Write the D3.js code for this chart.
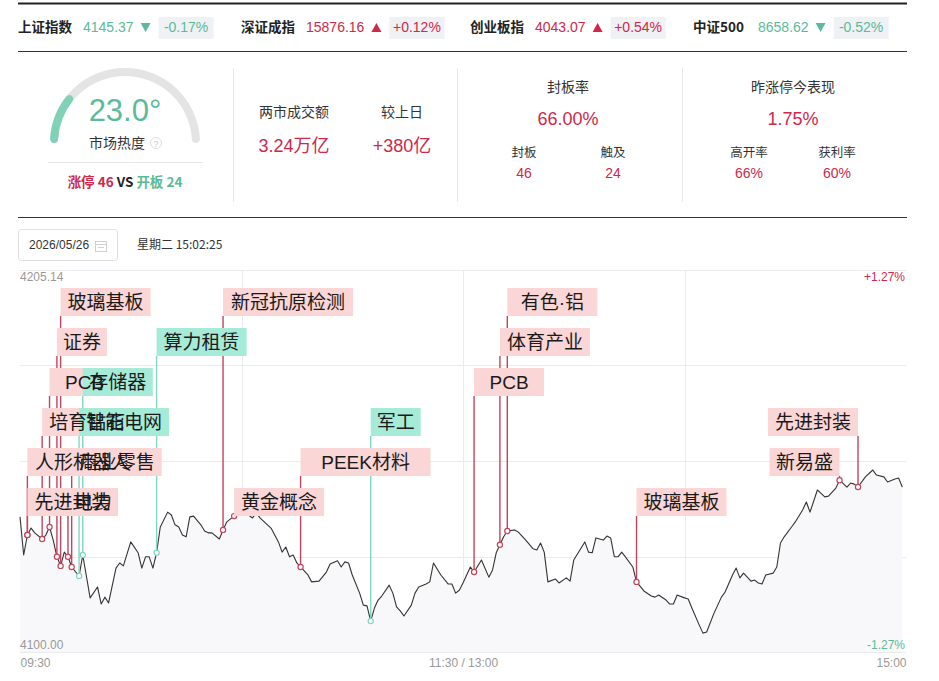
<!DOCTYPE html>
<html><head><meta charset="utf-8">
<script src="https://cdn.jsdelivr.net/npm/d3@7"></script>
<style>
html,body{margin:0;padding:0;background:#fff;}
svg{display:block;font-family:"Liberation Sans","Noto Sans CJK SC",sans-serif;}
</style></head><body>
<svg id="c" width="939" height="681"></svg>
<script>
// ---------- DATA ----------
const indexNames = ["上证指数","深证成指","创业板指","中证500"];
const indexValues = ["4145.37","15876.16","4043.07","8658.62"];
const indexChanges = ["-0.17%","+0.12%","+0.54%","-0.52%"];

const heatValue = 23.0;
const heatLabel = "市场热度";
const limitUp = 46, brokenBoard = 24;

const turnoverLabels = ["两市成交额","较上日"];
const turnoverValues = ["3.24万亿","+380亿"];

const sealTitle = "封板率", sealValue = "66.00%";
const sealSubLabels = ["封板","触及"], sealSubValues = ["46","24"];

const ydayTitle = "昨涨停今表现", ydayValue = "1.75%";
const ydaySubLabels = ["高开率","获利率"], ydaySubValues = ["66%","60%"];

const dateText = "2026/05/26";
const timeText = "星期二 15:02:25";

const priceMax = 4205.14, priceMin = 4100.00;
const pctLabels = ["+1.27%","-1.27%"];
const timeTicks = [0,120,240];
const timeLabels = ["09:30","11:30 / 13:00","15:00"];

// minutes since 09:30 (trading minutes) and index level
const minutes = [
0,1,2,3,4,6,7,8,9,10,
11,12,13,14,16,17,19,21,22,23,
24,26,27,28,30,32,33,34,35,36,
37,38,40,41,42,43,44,45,46,47,
49,50,51,52,54,55,56,58,59,61,
63,64,65,68,70,71,72,73,74,75,
76,78,79,81,83,84,86,87,88,89,
90,92,93,94,95,96,97,98,100,101,
102,103,104,106,107,108,110,111,112,114,
116,117,118,119,120,121,122,123,125,127,
128,129,130,131,132,134,135,137,139,140,
141,142,143,145,146,148,149,150,153,154,
155,156,158,159,160,161,162,163,164,166,
167,169,171,172,173,175,176,177,178,180,
181,182,184,185,186,188,190,191,193,194,
195,196,198,199,200,201,202,204,205,206,
207,209,210,212,213,214,216,218,219,221,
222,224,225,226,227,229,231,232,234,235,
237,238,239];
const prices = [
4137.2,4126.7,4132.2,4134.1,4132.8,4131.1,4132.2,4134.4,4130.8,4126.2,
4123.7,4127.5,4126.2,4123.4,4120.9,4126.7,4114.9,4117.9,4113.2,4115.1,
4113.5,4123.1,4124.5,4123.7,4130.3,4127.3,4123.1,4126.2,4126.2,4123.1,
4127.3,4134.4,4138.5,4137.7,4135.0,4134.4,4132.2,4131.7,4137.2,4137.4,
4135.0,4133.3,4132.8,4132.8,4131.1,4133.6,4135.8,4137.4,4138.0,4138.3,
4136.9,4138.3,4136.9,4134.1,4130.3,4127.5,4128.9,4126.2,4126.7,4124.5,
4123.4,4121.2,4119.3,4119.5,4122.0,4124.2,4125.1,4123.4,4124.8,4124.5,
4121.2,4116.2,4112.9,4112.7,4108.5,4112.1,4114.3,4115.4,4118.4,4116.2,
4112.4,4111.3,4109.9,4112.9,4116.2,4117.9,4118.7,4119.3,4124.5,4121.2,
4118.7,4118.7,4116.2,4117.0,4119.0,4121.2,4123.4,4122.0,4125.3,4120.6,
4122.6,4127.3,4129.5,4131.7,4133.3,4133.6,4133.0,4130.8,4128.4,4128.1,
4130.0,4127.5,4119.3,4120.1,4119.0,4120.4,4119.5,4125.3,4130.3,4127.5,
4127.3,4131.4,4130.8,4131.9,4131.4,4126.2,4126.2,4127.5,4126.2,4123.4,
4119.3,4116.8,4115.4,4115.1,4115.7,4114.3,4113.2,4113.2,4115.7,4114.9,
4114.6,4112.1,4107.4,4105.2,4105.5,4110.7,4115.1,4116.5,4121.2,4123.1,
4120.4,4121.7,4119.5,4119.8,4119.0,4118.7,4121.2,4121.7,4123.4,4130.0,
4131.7,4134.4,4135.8,4139.1,4141.3,4138.5,4144.6,4142.7,4142.9,4145.1,
4147.3,4145.4,4146.5,4146.2,4145.4,4148.2,4150.1,4148.7,4148.2,4146.8,
4147.6,4147.9,4145.37];

// sector events (limit-up clusters)
const eventMinutes = [2,2,6,8,10,11,13,14,16,17,37,55,58,76,95,123,130,132,167,222,227];
const eventNames = ["先进封装","人形机器人","培育钻石","PCB","证券","玻璃基板","电力","商业零售","智能电网","存储器","算力租赁","新冠抗原检测","黄金概念","PEEK材料","军工","PCB","体育产业","有色·铝","玻璃基板","新易盛","先进封装"];
const eventTypes = ["up","up","up","up","up","up","up","up","down","down","down","up","up","up","down","up","up","up","up","up","up"];

// ---------- STYLE ----------
const RED = "#d0284a", GREEN = "#5bbb98";
const svg = d3.select("#c");
const CJK = "'Noto Sans CJK SC','Liberation Sans',sans-serif";
const MIX = "'Liberation Sans','Noto Sans CJK SC',sans-serif";

// ---------- TOP BAR ----------
svg.append("line").attr("x1",18).attr("x2",907).attr("y1",3.5).attr("y2",3.5).attr("stroke","#222").attr("stroke-width",2);
svg.append("line").attr("x1",18).attr("x2",907).attr("y1",51.5).attr("y2",51.5).attr("stroke","#333").attr("stroke-width",1);
const groupX = [18,241,470,693];
indexNames.forEach((n,i)=>{
  const g = svg.append("g").attr("transform",`translate(${groupX[i]},0)`);
  const down = indexChanges[i].startsWith("-");
  const col = down ? GREEN : RED;
  g.append("text").attr("x",0).attr("y",32).text(n).attr("font-size",13.5).attr("font-weight","bold").attr("fill","#222").style("font-family",CJK);
  const vt = g.append("text").attr("x",65).attr("y",32).text(indexValues[i]).attr("font-size",14).attr("fill",col);
  const vEnd = 65 + vt.node().getComputedTextLength();
  const ax = vEnd + 12;
  const tri = down ? `M${ax-5},23 L${ax+5},23 L${ax},32 Z` : `M${ax-5},32 L${ax+5},32 L${ax},23 Z`;
  g.append("path").attr("d",tri).attr("fill",col);
  g.append("rect").attr("x",vEnd+25).attr("y",17).attr("width",55).attr("height",22).attr("fill","#eff1f4");
  g.append("text").attr("x",vEnd+25+27.5).attr("y",32).attr("text-anchor","middle").text(indexChanges[i]).attr("font-size",14).attr("fill",col);
});

// ---------- GAUGE ----------
const gc = {x:125, y:143};
const arc = d3.arc().innerRadius(67).outerRadius(75).cornerRadius(4);
const gG = svg.append("g").attr("transform",`translate(${gc.x},${gc.y})`);
gG.append("path").attr("d",arc({startAngle:-Math.PI/2,endAngle:Math.PI/2})).attr("fill","#e4e4e4");
gG.append("path").attr("d",arc({startAngle:-Math.PI/2,endAngle:-Math.PI/2+Math.PI*heatValue/100})).attr("fill","#7fd2b6");
svg.append("text").attr("x",125).attr("y",121).attr("text-anchor","middle").attr("font-size",31).attr("fill",GREEN).text(heatValue.toFixed(1)+"°");
svg.append("text").attr("x",117).attr("y",148).attr("text-anchor","middle").attr("font-size",14).attr("fill","#333").style("font-family",CJK).text(heatLabel);
svg.append("circle").attr("cx",156).attr("cy",143).attr("r",5.5).attr("fill","none").attr("stroke","#ddd");
svg.append("text").attr("x",156).attr("y",146.5).attr("text-anchor","middle").attr("font-size",9).attr("fill","#ccc").text("?");
svg.append("line").attr("x1",48).attr("x2",203).attr("y1",162.5).attr("y2",162.5).attr("stroke","#e6e6e6");
const vs = svg.append("text").attr("x",125).attr("y",187).attr("text-anchor","middle").attr("font-size",13.5).attr("font-weight","bold").style("font-family",CJK);
vs.append("tspan").attr("fill",RED).text(`涨停 ${limitUp}`);
vs.append("tspan").attr("fill","#222").text(" VS ");
vs.append("tspan").attr("fill",GREEN).text(`开板 ${brokenBoard}`);

// separators
[233,457,682].forEach(x=>svg.append("line").attr("x1",x+0.5).attr("x2",x+0.5).attr("y1",68).attr("y2",202).attr("stroke","#e8e8e8"));

// ---------- TURNOVER ----------
const tCols = [294,402];
turnoverLabels.forEach((l,i)=>{
  svg.append("text").attr("x",tCols[i]).attr("y",117).attr("text-anchor","middle").attr("font-size",14).attr("fill","#333").style("font-family",CJK).text(l);
  svg.append("text").attr("x",tCols[i]).attr("y",152).attr("text-anchor","middle").attr("font-size",18).attr("fill",RED).style("font-family",MIX).text(turnoverValues[i]);
});

// ---------- SEAL / YESTERDAY ----------
function statBlock(cx, subXs, title, value, subLabels, subValues){
  svg.append("text").attr("x",cx).attr("y",92).attr("text-anchor","middle").attr("font-size",14).attr("fill","#333").style("font-family",CJK).text(title);
  svg.append("text").attr("x",cx).attr("y",125).attr("text-anchor","middle").attr("font-size",18).attr("fill",RED).text(value);
  subLabels.forEach((s,i)=>{
    svg.append("text").attr("x",subXs[i]).attr("y",157).attr("text-anchor","middle").attr("font-size",12.5).attr("fill","#333").style("font-family",CJK).text(s);
    svg.append("text").attr("x",subXs[i]).attr("y",178).attr("text-anchor","middle").attr("font-size",14).attr("fill",RED).text(subValues[i]);
  });
}
statBlock(568,[524,613],sealTitle,sealValue,sealSubLabels,sealSubValues);
statBlock(793,[749,837],ydayTitle,ydayValue,ydaySubLabels,ydaySubValues);

svg.append("line").attr("x1",18).attr("x2",907).attr("y1",217.5).attr("y2",217.5).attr("stroke","#333");

// ---------- DATE ----------
svg.append("rect").attr("x",18.5).attr("y",229.5).attr("width",99).attr("height",31).attr("rx",3).attr("fill","#fff").attr("stroke","#dcdfe6");
svg.append("text").attr("x",29).attr("y",249).attr("font-size",12).attr("fill","#333").text(dateText);
const cal = svg.append("g").attr("transform","translate(95,240)").attr("stroke","#d0d0d0").attr("fill","none");
cal.append("rect").attr("x",0.5).attr("y",1.5).attr("width",11).attr("height",10);
cal.append("line").attr("x1",0.5).attr("x2",11.5).attr("y1",4.5).attr("y2",4.5);
cal.append("line").attr("x1",3).attr("x2",9).attr("y1",7.5).attr("y2",7.5);
svg.append("text").attr("x",137).attr("y",249).attr("font-size",12).attr("fill","#333").style("font-family",CJK).text(timeText);

// ---------- CHART ----------
const x = d3.scaleLinear().domain([0,240]).range([20,906]);
const y = d3.scaleLinear().domain([priceMin,priceMax]).range([652,270]);
const data = minutes.map((m,i)=>({m, p:prices[i]}));

const grid = svg.append("g");
d3.range(5).map(i=>priceMin+i*(priceMax-priceMin)/4).forEach(v=>{
  grid.append("line").attr("x1",x(0)).attr("x2",x(240)).attr("y1",Math.round(y(v))+0.5).attr("y2",Math.round(y(v))+0.5).attr("stroke","#ebebeb");
});
[60,120,180].forEach(m=>{
  grid.append("line").attr("x1",Math.round(x(m))+0.5).attr("x2",Math.round(x(m))+0.5).attr("y1",y(priceMax)).attr("y2",y(priceMin)).attr("stroke","#ebebeb");
});

svg.append("path").datum(data)
  .attr("d",d3.area().x(d=>x(d.m)).y0(y(priceMin)).y1(d=>y(d.p)))
  .attr("fill","#f8f8fa");
svg.append("path").datum(data)
  .attr("d",d3.line().x(d=>x(d.m)).y(d=>y(d.p)))
  .attr("fill","none").attr("stroke","#333").attr("stroke-width",1.1).attr("stroke-linejoin","round");

// axis labels
svg.append("text").attr("x",x(0)).attr("y",y(priceMax)+11).attr("font-size",12).attr("fill","#999").text(priceMax.toFixed(2));
svg.append("text").attr("x",x(0)).attr("y",y(priceMin)-3).attr("font-size",12).attr("fill","#999").text(priceMin.toFixed(2));
svg.append("text").attr("x",x(240)-1).attr("y",y(priceMax)+11).attr("text-anchor","end").attr("font-size",12).attr("fill",RED).text(pctLabels[0]);
svg.append("text").attr("x",x(240)-1).attr("y",y(priceMin)-3).attr("text-anchor","end").attr("font-size",12).attr("fill",GREEN).text(pctLabels[1]);

const xAxis = svg.append("g").attr("transform",`translate(0,${y(priceMin)})`)
  .call(d3.axisBottom(x).tickValues(timeTicks).tickFormat((d,i)=>timeLabels[i]).tickSize(0).tickPadding(6.5));
xAxis.select(".domain").remove();
xAxis.selectAll("text").attr("font-size",12).attr("fill","#999").attr("font-family","'Liberation Sans',sans-serif")
  .attr("text-anchor",(d,i)=>i===0?"start":(i===timeTicks.length-1?"end":"middle"));

// events
const ROW0 = 288, ROWH = 40, BOXH = 28, RIGHT = x(240);
const ev = eventMinutes.map((m,i)=>{
  const idx = minutes.indexOf(m);
  const level = 6 - (i % 6);
  const n = [...eventNames[i]].length;
  const w = n*20 + 10;
  const mx = x(m);
  let left = mx;
  if (mx + w > RIGHT) left = mx - w;
  return {m, p:prices[idx], name:eventNames[i], type:eventTypes[i], top:ROW0+(level-1)*ROWH, w, left, mx};
});
const lineCol = t => t==="up" ? "#c4445e" : "#84d6c0";
const boxCol = t => t==="up" ? "#fbd6d6" : "#a6ebd8";

const evG = svg.append("g");
evG.selectAll("line").data(ev).join("line")
  .attr("x1",d=>d.mx).attr("x2",d=>d.mx).attr("y1",d=>y(d.p)).attr("y2",d=>d.top+BOXH)
  .attr("stroke",d=>lineCol(d.type)).attr("stroke-width",1.4);
evG.selectAll("circle").data(ev).join("circle")
  .attr("cx",d=>d.mx).attr("cy",d=>y(d.p)).attr("r",2.6)
  .attr("fill","#fff").attr("stroke",d=>lineCol(d.type)).attr("stroke-width",1.2);
evG.selectAll("rect").data(ev).join("rect")
  .attr("x",d=>d.left).attr("y",d=>d.top).attr("width",d=>d.w).attr("height",BOXH)
  .attr("fill",d=>boxCol(d.type));
evG.selectAll("text").data(ev).join("text")
  .attr("x",d=>d.left+d.w/2).attr("y",d=>d.top+BOXH/2+7)
  .attr("text-anchor","middle").attr("font-size",19).attr("fill","#1a1a1a")
  .style("font-family",MIX).text(d=>d.name);
</script>
</body></html>
